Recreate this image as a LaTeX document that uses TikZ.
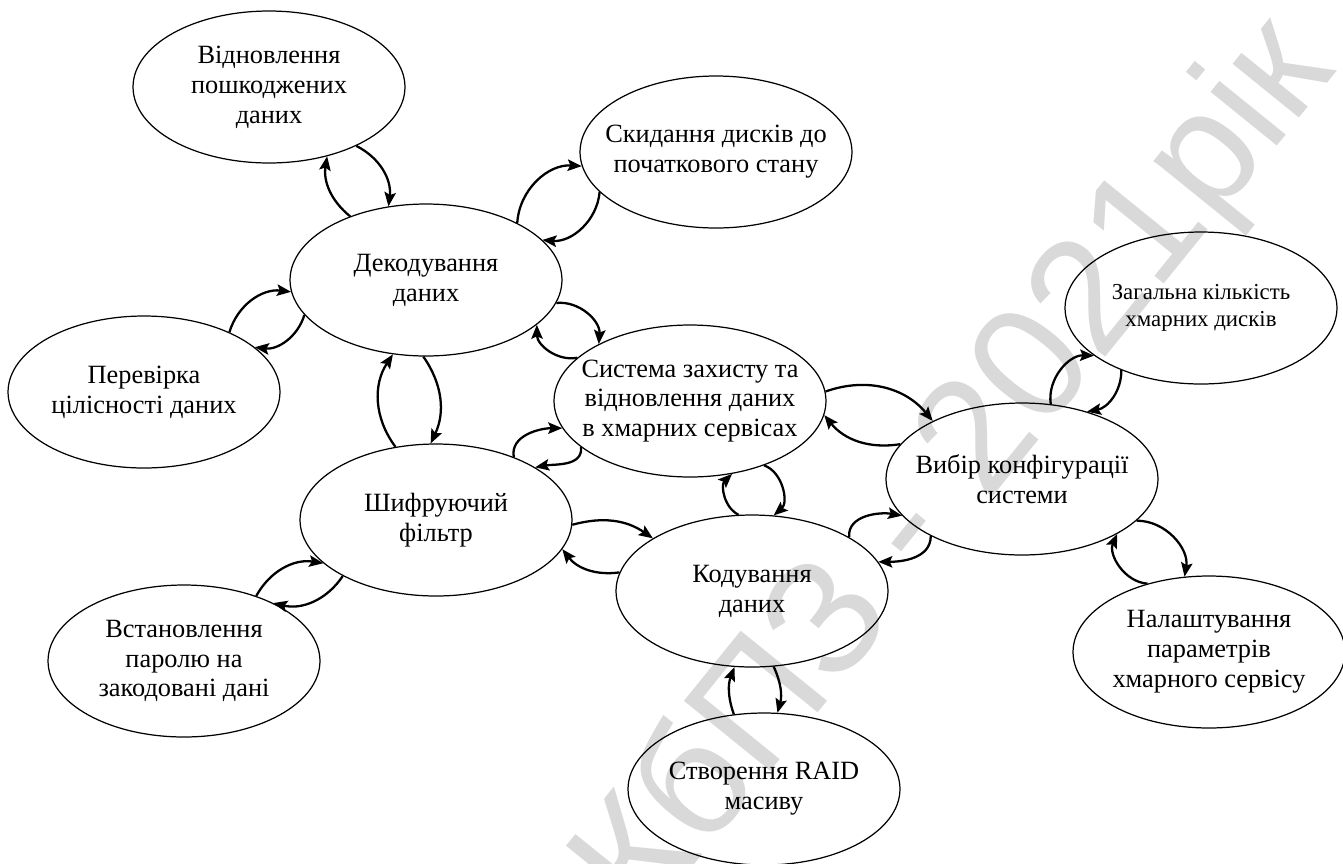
\documentclass[tikz,border=0pt]{standalone}
\usepackage{fontspec}
\setmainfont{Liberation Serif}
\newfontfamily\znakfont{Liberation Sans}
\usepackage{tikz}
\usetikzlibrary{shapes.geometric,arrows.meta}
\tikzset{
	blok/.style={ellipse,draw,line width=0.7pt,minimum width=5.44cm,minimum height=3.04cm,inner xsep=-30pt,inner ysep=0pt,align=center,font=\fontsize{15}{17}\selectfont},
	blokm/.style={blok,font=\fontsize{13}{15.5}\selectfont},
	strl/.style={line width=1.3pt,-{Stealth[length=8pt,width=6.5pt,inset=1.5pt]}}
}
\begin{document}
\begin{tikzpicture}[x=0.02cm,y=-0.02cm]
					\useasboundingbox (0,0) rectangle (1343,863);
					\node [rotate=51,text=black!15,font=\znakfont\fontsize{92}{92}\selectfont] (znak) at (958,472) {КбПЗ - 2021рік};

					\node [blok] (vidn) at (269,87) {Відновлення\\пошкоджених\\даних};
					\node [blok] (skyd) at (716,152) {Скидання дисків до\\початкового стану};
					\node [blok] (dekod) at (426,280) {Декодування\\даних};
					\node [blok] (perev) at (144,392) {Перевірка\\цілісності даних};
					\node [blok] (syst) at (690,401) {Система захисту та\\відновлення даних\\в хмарних сервісах};
					\node [blok] (shyfr) at (436,520) {Шифруючий\\фільтр};
					\node [blok] (kod) at (752,591) {Кодування\\даних};
					\node [blok] (vybir) at (1022,479) {Вибір конфігурації\\системи};
					\node [blokm] (zah) at (1201,308) {Загальна кількість\\хмарних дисків};
					\node [blok] (nal) at (1209,652) {Налаштування\\параметрів\\хмарного сервісу};
					\node [blok] (vstan) at (184,661) {Встановлення\\паролю на\\закодовані дані};
					\node [blok] (raid) at (764,789) {Створення RAID\\масиву};

					\draw[strl] (dekod.140) to[bend left=30] (vidn.310);
					\draw[strl] (vidn.326) to[bend left=35] (dekod.117);
					\draw[strl] (dekod.32) to[bend left=45] (skyd.186);
					\draw[strl] (skyd.199) to[bend left=45] (dekod.19);
					\draw[strl] (dekod.-10) to[bend left=50] (syst.148);
					\draw[strl] (syst.159) to[bend left=50] (dekod.-22);
					\draw[strl] (perev.35) to[bend left=40] (dekod.185);
					\draw[strl] (dekod.196) to[bend left=40] (perev.22);
					\draw[strl] (shyfr.119) to[bend left=35] (dekod.246);
					\draw[strl] (dekod.268) to[bend left=30] (shyfr.94);
					\draw[strl] (shyfr.39) to[out=100,in=180] (syst.192);
					\draw[strl] (syst.203) to[out=-85,in=10] (shyfr.28);
					\draw[strl] (shyfr.-2) to[bend left=25] (kod.152);
					\draw[strl] (kod.172) to[bend left=30] (shyfr.-13);
					\draw[strl] (kod.100) to[bend left=55] (syst.-60);
					\draw[strl] (syst.-41) to[bend left=60] (kod.74);
					\draw[strl] (syst.4) to[bend left=35] (vybir.147);
					\draw[strl] (vybir.164) to[bend left=30] (syst.-6);
					\draw[strl] (kod.29) to[out=95,in=170] (vybir.197);
					\draw[strl] (vybir.212) to[out=-90,in=0] (kod.13);
					\draw[strl] (vybir.69) to[bend left=50] (zah.204);
					\draw[strl] (zah.218) to[bend left=40] (vybir.46);
					\draw[strl] (vybir.-20) to[bend left=50] (nal.108);
					\draw[strl] (nal.132) to[bend left=55] (vybir.-30);
					\draw[strl] (raid.112) to[bend left=20] (kod.257);
					\draw[strl] (kod.-74) to[bend left=20] (raid.80);
					\draw[strl] (vstan.42) to[bend left=35] (shyfr.201);
					\draw[strl] (shyfr.211) to[bend left=35] (vstan.33);
				\end{tikzpicture}
\end{document}
